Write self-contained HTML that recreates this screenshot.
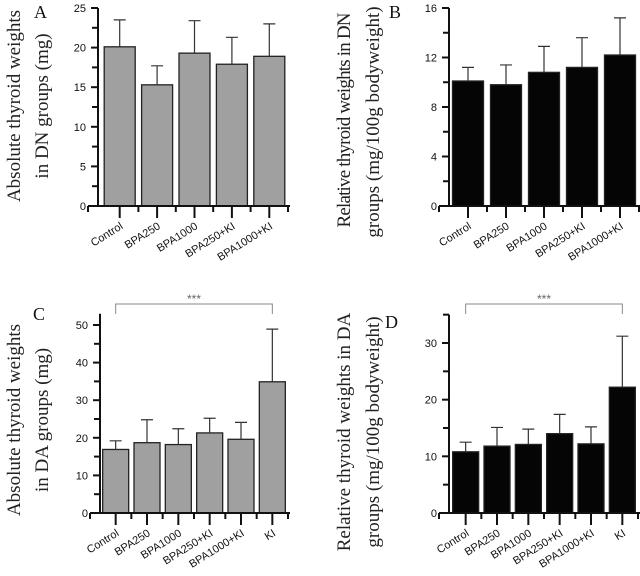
<!DOCTYPE html>
<html><head><meta charset="utf-8"><style>
html,body{margin:0;padding:0;background:#fff;}
svg{display:block;}
.tk{font-family:"Liberation Sans",Arial,sans-serif;font-size:11px;fill:#111;}
.yl{font-family:"Liberation Serif","Times New Roman",serif;font-size:19px;fill:#222;}
.pl{font-family:"Liberation Serif","Times New Roman",serif;font-size:18px;fill:#111;}
</style></head><body>
<svg id="fig" width="640" height="576" viewBox="0 0 640 576">
<text class="pl" x="34" y="18">A</text>
<text class="pl" x="389" y="18">B</text>
<text class="pl" x="33" y="320">C</text>
<text class="pl" x="385" y="328">D</text>
<text class="yl" transform="translate(20,106) rotate(-90)" text-anchor="middle">Absolute thyroid weights</text>
<text class="yl" transform="translate(48,106) rotate(-90)" text-anchor="middle">in DN groups (mg)</text>
<text class="yl" transform="translate(350,120) rotate(-90)" text-anchor="middle" textLength="215" lengthAdjust="spacing">Relative thyroid weights in DN</text>
<text class="yl" transform="translate(379,122) rotate(-90)" text-anchor="middle">groups (mg/100g bodyweight)</text>
<text class="yl" transform="translate(20,420) rotate(-90)" text-anchor="middle">Absolute thyroid weights</text>
<text class="yl" transform="translate(48,420) rotate(-90)" text-anchor="middle">in DA groups (mg)</text>
<text class="yl" transform="translate(350,432) rotate(-90)" text-anchor="middle">Relative thyroid weights in DA</text>
<text class="yl" transform="translate(379,432) rotate(-90)" text-anchor="middle">groups (mg/100g bodyweight)</text>
</svg>
<script>
const catsDN = ["Control","BPA250","BPA1000","BPA250+KI","BPA1000+KI"];
const catsDA = ["Control","BPA250","BPA1000","BPA250+KI","BPA1000+KI","KI"];
const valsA = [20.1,15.3,19.3,17.9,18.9];
const errA = [3.4,2.4,4.1,3.4,4.1];
const valsB = [10.1,9.8,10.8,11.2,12.2];
const errB = [1.1,1.6,2.1,2.4,3.0];
const valsC = [16.9,18.7,18.2,21.3,19.6,34.9];
const errC = [2.3,6.1,4.2,3.9,4.5,14.0];
const valsD = [10.8,11.8,12.1,14.0,12.2,22.2];
const errD = [1.7,3.3,2.7,3.4,3.0,9.0];
const ticksA = [0,5,10,15,20,25];
const ticksB = [0,4,8,12,16];
const ticksC = [0,10,20,30,40,50];
const ticksD = [0,10,20,30];

const NS = "http://www.w3.org/2000/svg";
const svg = document.getElementById("fig");
function mk(tag, attrs, parent){
  const e = document.createElementNS(NS, tag);
  for (const k in attrs) e.setAttribute(k, attrs[k]);
  (parent||svg).appendChild(e);
  return e;
}
function panel(id, cats, vals, errs, ticks, cfg){
  const g = mk("g", {});
  
  
  const y = v => cfg.y0 - (v - 0) / (cfg.vmax) * (cfg.y0 - cfg.yTop);
  const n = cats.length;
  const bw = (cfg.xEnd - cfg.x0) / n;
  const cx = i => cfg.x0 + bw * (i + 0.5);
  for (let i = 0; i < n; i++){
    const r = mk("rect", {x: cx(i) - cfg.bar/2, y: y(vals[i]), width: cfg.bar, height: cfg.y0 - y(vals[i]), fill: cfg.fill, stroke: "#222", "stroke-width": 1.3}, g);
    
    
    const eb = mk("path", {d: `M${cx(i)},${y(vals[i])}V${y(vals[i]+errs[i])}M${cx(i)-6},${y(vals[i]+errs[i])}H${cx(i)+6}`, stroke: "#333", "stroke-width": 1.2, fill: "none"}, g);
    
    
    const lb = mk("text", {class: "tk", transform: `translate(${cx(i)+4},${cfg.y0+22}) rotate(-32)`, "text-anchor": "end"}, g);
    lb.textContent = cats[i];
    
    
    mk("line", {x1: cx(i), x2: cx(i), y1: cfg.y0, y2: cfg.y0 + 12, stroke: "#111", "stroke-width": 2}, g);
    mk("line", {x1: cfg.x0 + bw*(i+1), x2: cfg.x0 + bw*(i+1), y1: cfg.y0, y2: cfg.y0 + 6, stroke: "#111", "stroke-width": 2}, g);
  }
  const ya = mk("line", {x1: cfg.ax, x2: cfg.ax, y1: y(cfg.vtop), y2: cfg.y0 + 1, stroke: "#111", "stroke-width": 2}, g);
  
  
  const xa = mk("line", {x1: cfg.ax - 10, x2: cfg.xEnd + 2, y1: cfg.y0, y2: cfg.y0, stroke: "#111", "stroke-width": 2}, g);
  
  
  mk("line", {x1: cfg.ax - 10, x2: cfg.ax - 10, y1: cfg.y0, y2: cfg.y0 + 6, stroke: "#111", "stroke-width": 2}, g);
  const step = ticks[1] - ticks[0];
  for (let t = 0; t <= cfg.vtop + 1e-9; t += step/2){
    const major = ticks.some(v => Math.abs(v - t) < 1e-9);
    mk("line", {x1: cfg.ax - (major ? 7 : 6), x2: cfg.ax, y1: y(t), y2: y(t), stroke: "#111", "stroke-width": 2}, g);
  }
  for (const t of ticks){
    const tl = mk("text", {class: "tk", x: cfg.ax - 12, y: y(t) + 4, "text-anchor": "end"}, g);
    tl.textContent = t;
    
    
  }
  if (cfg.sig){
    const by = cfg.sig;
    const br = mk("path", {d: `M${cx(0)},${by+10}V${by}H${cx(n-1)}V${by+10}`, stroke: "#888", "stroke-width": 1, fill: "none"}, g);
    
    
    const st = mk("text", {class: "tk", x: (cx(0)+cx(n-1))/2, y: by - 1, "text-anchor": "middle", style: "font-size:12px;fill:#666"}, g);
    st.textContent = "***";
    
    
  }
}
panel("a", catsDN, valsA, errA, ticksA, {ax: 98, x0: 101, xEnd: 288, bar: 31, y0: 206, yTop: 8, vmax: 25, vtop: 25, fill: "#a0a0a0"});
panel("b", catsDN, valsB, errB, ticksB, {ax: 449, x0: 449, xEnd: 639, bar: 31, y0: 206, yTop: 8, vmax: 16, vtop: 16, fill: "#050505"});
panel("c", catsDA, valsC, errC, ticksC, {ax: 100, x0: 100, xEnd: 288, bar: 26, y0: 513, yTop: 325, vmax: 50, vtop: 53, fill: "#a0a0a0", sig: 304});
panel("d", catsDA, valsD, errD, ticksD, {ax: 449, x0: 450, xEnd: 638, bar: 26, y0: 513, yTop: 343, vmax: 30, vtop: 35, fill: "#050505", sig: 304});
</script>
</body></html>
